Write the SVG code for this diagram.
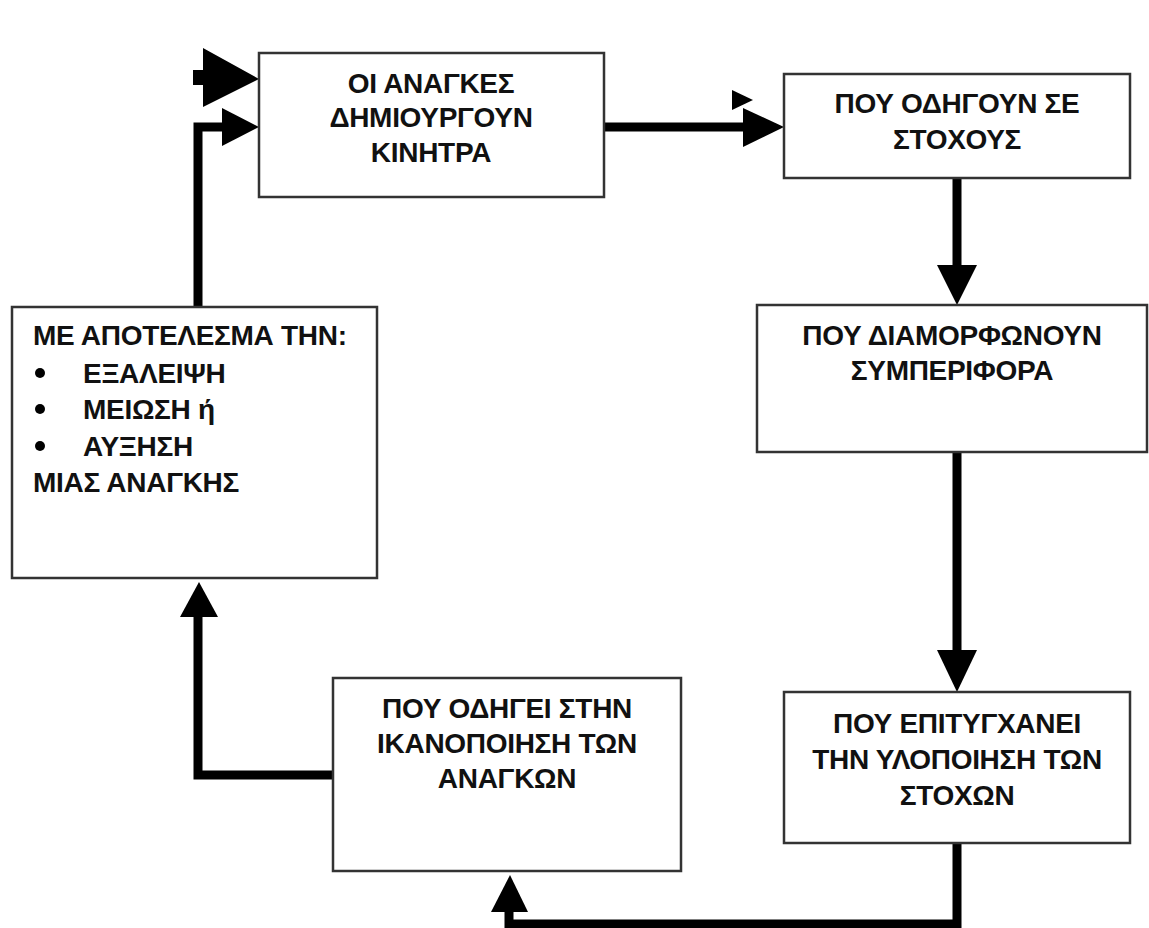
<svg xmlns="http://www.w3.org/2000/svg" width="1149" height="928" viewBox="0 0 1149 928">
<style>
.box{fill:#fff;stroke:#333;stroke-width:2.5}
.t{font-family:"Liberation Sans",Arial,sans-serif;font-weight:bold;font-size:28px;fill:#111;letter-spacing:-0.3px}
.c{text-anchor:middle}
.ln{fill:none;stroke:#000;stroke-width:9;stroke-linejoin:miter}
.hd{fill:#000}
</style>
<rect width="1149" height="928" fill="#fff"/>
<g id="connectors">
<polygon class="hd" points="193,70 203,70 203,48 259,79 203,107 203,85 193,85"/>
<polyline class="ln" points="198,307 198,127 224,127"/>
<polygon class="hd" points="222,108 259,127 222,146"/>
<line class="ln" x1="604" y1="127" x2="745" y2="127"/>
<polygon class="hd" points="743,108 784,127 743,147"/>
<polygon class="hd" points="732,90 753,100 732,110"/>
<line class="ln" x1="957" y1="178" x2="957" y2="267"/>
<polygon class="hd" points="937,265 977,265 957,305"/>
<line class="ln" x1="957" y1="452" x2="957" y2="652"/>
<polygon class="hd" points="937,650 977,650 957,692"/>
<polyline class="ln" points="957,843 957,924 509,924 509,910"/>
<polygon class="hd" points="491,912 528,912 510,875"/>
<polyline class="ln" points="333,775 198,775 198,615"/>
<polygon class="hd" points="180,617 218,617 199,582"/>
</g>
<g id="n1">
<rect class="box" x="259" y="53" width="345" height="144"/>
<text class="t c" x="431" y="93">ΟΙ ΑΝΑΓΚΕΣ</text>
<text class="t c" x="431" y="127">ΔΗΜΙΟΥΡΓΟΥΝ</text>
<text class="t c" x="431" y="162">ΚΙΝΗΤΡΑ</text>
</g>
<g id="n2">
<rect class="box" x="784" y="74" width="346" height="104"/>
<text class="t c" x="957" y="113">ΠΟΥ ΟΔΗΓΟΥΝ ΣΕ</text>
<text class="t c" x="957" y="149">ΣΤΟΧΟΥΣ</text>
</g>
<g id="n3">
<rect class="box" x="757" y="305" width="390" height="147"/>
<text class="t c" x="952" y="345">ΠΟΥ ΔΙΑΜΟΡΦΩΝΟΥΝ</text>
<text class="t c" x="952" y="380">ΣΥΜΠΕΡΙΦΟΡΑ</text>
</g>
<g id="n4">
<rect class="box" x="784" y="692" width="346" height="151"/>
<text class="t c" x="957" y="733">ΠΟΥ ΕΠΙΤΥΓΧΑΝΕΙ</text>
<text class="t c" x="957" y="769">ΤΗΝ ΥΛΟΠΟΙΗΣΗ ΤΩΝ</text>
<text class="t c" x="957" y="805">ΣΤΟΧΩΝ</text>
</g>
<g id="n5">
<rect class="box" x="333" y="678" width="348" height="193"/>
<text class="t c" x="507" y="718">ΠΟΥ ΟΔΗΓΕΙ ΣΤΗΝ</text>
<text class="t c" x="507" y="753">ΙΚΑΝΟΠΟΙΗΣΗ ΤΩΝ</text>
<text class="t c" x="507" y="788">ΑΝΑΓΚΩΝ</text>
</g>
<g id="n6">
<rect class="box" x="12" y="307" width="365" height="271"/>
<text class="t" x="33" y="345">ΜΕ ΑΠΟΤΕΛΕΣΜΑ ΤΗΝ:</text>
<circle cx="40" cy="373" r="5"/>
<text class="t" x="83" y="383">ΕΞΑΛΕΙΨΗ</text>
<circle cx="40" cy="409" r="5"/>
<text class="t" x="83" y="419">ΜΕΙΩΣΗ ή</text>
<circle cx="40" cy="446" r="5"/>
<text class="t" x="83" y="456">ΑΥΞΗΣΗ</text>
<text class="t" x="33" y="492">ΜΙΑΣ ΑΝΑΓΚΗΣ</text>
</g>
</svg>
